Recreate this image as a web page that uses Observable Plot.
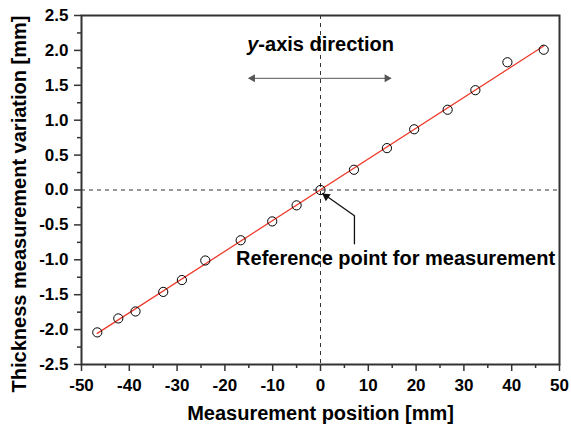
<!DOCTYPE html>
<html>
<head>
<meta charset="utf-8">
<script src="https://cdn.jsdelivr.net/npm/d3@7"></script>
<script src="https://cdn.jsdelivr.net/npm/@observablehq/plot@0.6"></script>
<style>
  html, body { margin: 0; padding: 0; background: #fff; }
  #chart svg { display: block; }
</style>
</head>
<body>
<div id="chart"></div>
<script>
// Measured thickness variation along the scan line
const positions = [-46.7, -42.3, -38.7, -32.9, -29.0, -24.1, -16.7, -10.1, -5.0, 0, 7.0, 13.9, 19.6, 26.6, 32.4, 39.1, 46.7];
const variations = [-2.04, -1.84, -1.74, -1.46, -1.29, -1.01, -0.72, -0.45, -0.22, 0, 0.29, 0.60, 0.87, 1.15, 1.43, 1.83, 2.01];

// Axis ticks
const xTicks = [-50, -40, -30, -20, -10, 0, 10, 20, 30, 40, 50];
const xMinorTicks = [-45, -35, -25, -15, -5, 5, 15, 25, 35, 45];
const yTicks = [-2.5, -2.0, -1.5, -1.0, -0.5, 0.0, 0.5, 1.0, 1.5, 2.0, 2.5];
const yMinorTicks = [-2.25, -1.75, -1.25, -0.75, -0.25, 0.25, 0.75, 1.25, 1.75, 2.25];

// Annotations (data units)
const directionArrow = [{x: -14.9, y: 1.6}, {x: 14.6, y: 1.6}];
const directionHeads = [{x: -14.2, y: 1.6, angle: -90}, {x: 13.9, y: 1.6, angle: 90}];
const referenceArrow = [{x: 7.1, y: -0.77}, {x: 7.1, y: -0.37}, {x: 0.5, y: -0.05}];
const referenceHead = [{x: 1.2, y: -0.09, angle: -55}];
const directionLabel = {x: -13.0, y: 2.08, italic: "y", rest: "-axis direction"};
const referenceLabel = {x: 15.7, y: -0.98, text: "Reference point for measurement"};

const points = positions.map((x, i) => ({x, y: variations[i]}));

const font = "Liberation Sans, Arial, Helvetica, sans-serif";

const chart = Plot.plot({
  width: 571,
  height: 432,
  marginLeft: 81,
  marginRight: 12,
  marginTop: 15,
  marginBottom: 68,
  style: {fontFamily: font, background: "#fff", color: "#000"},
  x: {domain: [-50, 50]},
  y: {domain: [-2.5, 2.5]},
  marks: [
    // reference cross-hairs
    Plot.ruleX([0], {stroke: "#333", strokeWidth: 1, strokeDasharray: "4,4"}),
    Plot.ruleY([0], {stroke: "#333", strokeWidth: 1, strokeDasharray: "4,4"}),

    // minor ticks
    Plot.axisX(xMinorTicks, {tickSize: 4, tickFormat: () => "", stroke: "#333", strokeWidth: 1.5, label: null}),
    Plot.axisY(yMinorTicks, {tickSize: 4, tickFormat: () => "", stroke: "#333", strokeWidth: 1.5, label: null}),
    // major ticks with labels
    Plot.axisX(xTicks, {
      tickSize: 7, tickPadding: 7, stroke: "#333", strokeWidth: 1.5,
      tickFormat: d => String(d), fontSize: 17, fontWeight: "bold", fill: "#000", label: null
    }),
    Plot.axisY(yTicks, {
      tickSize: 7, tickPadding: 6, stroke: "#333", strokeWidth: 1.5,
      tickFormat: d => d.toFixed(1), fontSize: 17, fontWeight: "bold", fill: "#000", label: null
    }),

    // axis titles
    Plot.text(["Measurement position [mm]"], {
      frameAnchor: "bottom", dy: 55, fontSize: 20, fontWeight: "bold", fill: "#000"
    }),
    Plot.text(["Thickness measurement variation [mm]"], {
      frameAnchor: "left", textAnchor: "middle", dx: -62, dy: 14, rotate: -90,
      fontSize: 20, fontWeight: "bold", fill: "#000"
    }),

    // fitted line
    Plot.linearRegressionY(points, {x: "x", y: "y", stroke: "#ee3a2a", strokeWidth: 1.3, ci: 0}),

    // measurements
    Plot.dot(points, {x: "x", y: "y", r: 4.6, stroke: "#000", strokeWidth: 1, fill: "none"}),

    // direction annotation
    Plot.line(directionArrow, {x: "x", y: "y", stroke: "#555", strokeWidth: 1}),
    Plot.dot(directionHeads, {x: "x", y: "y", rotate: "angle", symbol: "triangle", r: 3, fill: "#555", stroke: "none"}),
    Plot.text([directionLabel], {
      x: "x", y: "y", text: "italic", textAnchor: "end",
      fontSize: 20, fontWeight: "bold", fontStyle: "italic", fill: "#000"
    }),
    Plot.text([directionLabel], {
      x: "x", y: "y", text: "rest", textAnchor: "start",
      fontSize: 20, fontWeight: "bold", fill: "#000"
    }),

    // reference point annotation
    Plot.line(referenceArrow, {x: "x", y: "y", stroke: "#111", strokeWidth: 1.3}),
    Plot.dot(referenceHead, {x: "x", y: "y", rotate: "angle", symbol: "triangle", r: 3.2, fill: "#111", stroke: "none"}),
    Plot.text([referenceLabel], {
      x: "x", y: "y", text: "text",
      fontSize: 20, fontWeight: "bold", fill: "#000"
    }),

    Plot.frame({stroke: "#333", strokeWidth: 2})
  ]
});

document.getElementById("chart").appendChild(chart);
</script>
</body>
</html>
